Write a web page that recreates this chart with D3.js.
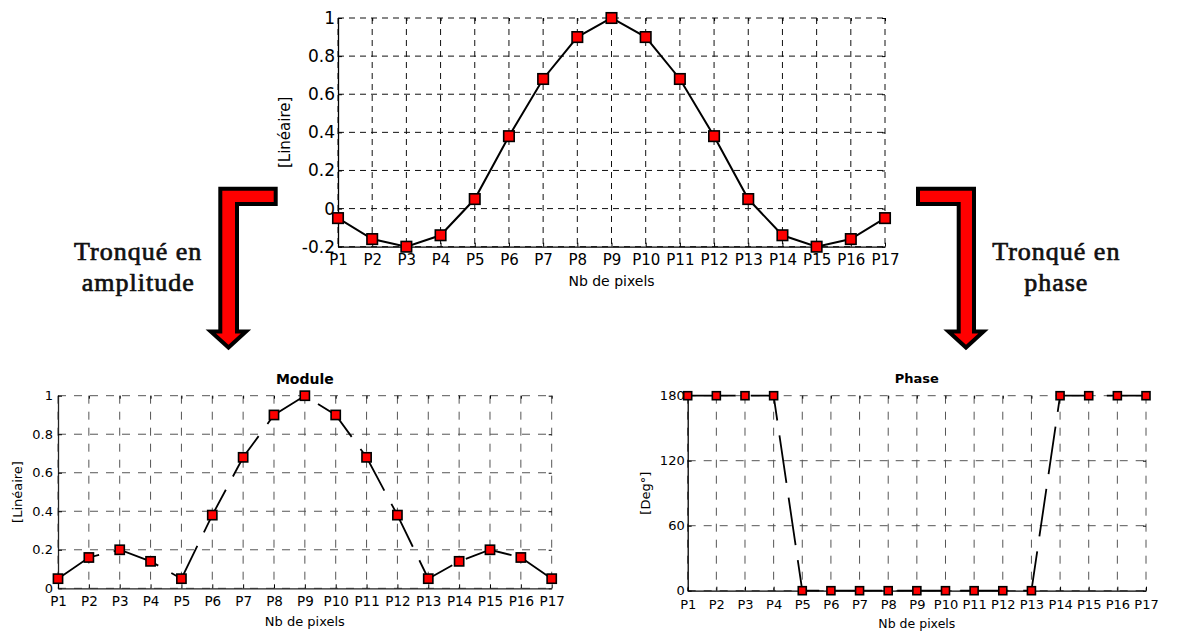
<!DOCTYPE html>
<html>
<head>
<meta charset="utf-8">
<script src="https://cdn.jsdelivr.net/npm/d3@7"></script>
<style>
  html, body { margin: 0; padding: 0; background: #fff; }
  svg { display: block; }
</style>
</head>
<body>
<svg id="chart" width="1200" height="633"></svg>
<script>
// ---------- data ----------
const categories = ["P1","P2","P3","P4","P5","P6","P7","P8","P9","P10","P11","P12","P13","P14","P15","P16","P17"];
const signalValues = [-0.05,-0.16,-0.2,-0.14,0.05,0.38,0.68,0.9,1,0.9,0.68,0.38,0.05,-0.14,-0.2,-0.16,-0.05];
const moduleValues = [0.05,0.16,0.2,0.14,0.05,0.38,0.68,0.9,1,0.9,0.68,0.38,0.05,0.14,0.2,0.16,0.05];
const phaseValues = [180,180,180,180,0,0,0,0,0,0,0,0,0,180,180,180,180];
const signalTicks = [-0.2,0,0.2,0.4,0.6,0.8,1];
const moduleTicks = [0,0.2,0.4,0.6,0.8,1];
const phaseTicks = [0,60,120,180];
const xLabel = "Nb de pixels";
const leftArrowText = ["Tronqué en","amplitude"];
const rightArrowText = ["Tronqué en","phase"];

const svg = d3.select("#chart");
const FONT = "'DejaVu Sans', sans-serif";

function fmtNum(d){ return String(d); }

function drawPanel(o){
  const g = svg.append("g");
  const x = d3.scalePoint().domain(categories).range([o.left, o.right]);
  const y = d3.scaleLinear().domain(o.yDomain).range([o.bottom, o.top]);

  // grid
  g.append("g").selectAll("line").data(categories).join("line")
    .attr("x1", d => x(d)).attr("x2", d => x(d))
    .attr("y1", o.top).attr("y2", o.bottom)
    .attr("stroke", o.gridColor).attr("stroke-width", 1)
    .attr("stroke-dasharray", o.gridDash);
  g.append("g").selectAll("line").data(o.yTicks).join("line")
    .attr("x1", o.left).attr("x2", o.right)
    .attr("y1", d => y(d)).attr("y2", d => y(d))
    .attr("stroke", o.gridColor).attr("stroke-width", 1)
    .attr("stroke-dasharray", o.gridDash);

  // top / right small ticks
  const topAx = g.append("g").attr("transform", `translate(0,${o.top})`)
    .call(d3.axisTop(x).tickSize(-3).tickSizeOuter(0).tickFormat(""));
  topAx.select(".domain").remove();
  const rightAx = g.append("g").attr("transform", `translate(${o.right},0)`)
    .call(d3.axisRight(y).tickValues(o.yTicks).tickSize(-3).tickSizeOuter(0).tickFormat(""));
  rightAx.select(".domain").remove();

  // left axis
  const la = g.append("g").attr("transform", `translate(${o.left},0)`)
    .call(d3.axisLeft(y).tickValues(o.yTicks).tickSize(-4).tickSizeOuter(0)
      .tickPadding(o.yPad).tickFormat(fmtNum));
  la.select(".domain").attr("stroke", o.axisColor).attr("stroke-width", 1.3);
  la.selectAll("text").attr("font-family", FONT).attr("font-size", o.yTickFs).attr("fill", "#000");

  // bottom axis
  const ba = g.append("g").attr("transform", `translate(0,${o.bottom})`)
    .call(d3.axisBottom(x).tickSize(-4).tickSizeOuter(0).tickPadding(o.xPad));
  ba.select(".domain").attr("stroke", o.axisColor).attr("stroke-width", 1.3);
  ba.selectAll("text").attr("font-family", FONT).attr("font-size", o.xTickFs).attr("fill", "#000");

  // x label
  g.append("text").attr("x", (o.left + o.right) / 2).attr("y", o.xLabelY)
    .attr("text-anchor", "middle").attr("font-family", FONT).attr("font-size", o.xLabelFs)
    .text(xLabel);
  // y label
  g.append("text")
    .attr("transform", `translate(${o.yLabelX},${(o.top + o.bottom) / 2}) rotate(-90)`)
    .attr("text-anchor", "middle").attr("dy", "0.35em")
    .attr("font-family", FONT).attr("font-size", o.yLabelFs)
    .text(o.yLabel);
  // title
  if (o.title) {
    g.append("text").attr("x", (o.left + o.right) / 2).attr("y", o.titleY)
      .attr("text-anchor", "middle").attr("font-family", FONT).attr("font-weight", "bold")
      .attr("font-size", o.titleFs).text(o.title);
  }

  // data line
  const line = d3.line().x((d, i) => x(categories[i])).y(d => y(d));
  g.append("path").datum(o.values).attr("d", line)
    .attr("fill", "none").attr("stroke", "#000").attr("stroke-width", o.lineWidth)
    .attr("stroke-dasharray", o.lineDash || null);

  // markers
  const s = o.markerSize;
  g.append("g").selectAll("rect").data(o.values).join("rect")
    .attr("x", (d, i) => x(categories[i]) - s / 2)
    .attr("y", d => y(d) - s / 2)
    .attr("width", s).attr("height", s)
    .attr("fill", "#ff0000").attr("stroke", "#000").attr("stroke-width", 1.6);
}

// top chart
drawPanel({
  left: 338, right: 885, top: 18, bottom: 246.7,
  yDomain: [-0.2, 1], yTicks: signalTicks, values: signalValues,
  gridColor: "#111", gridDash: "6,5", axisColor: "#000",
  yPad: 3, xPad: 8, yTickFs: 17, xTickFs: 15,
  xLabelY: 286, xLabelFs: 14, yLabelX: 285, yLabelFs: 15, yLabel: "[Linéaire]",
  lineWidth: 2, markerSize: 10.5
});

// module chart
drawPanel({
  left: 58, right: 551.7, top: 395.7, bottom: 588.3,
  yDomain: [0, 1], yTicks: moduleTicks, values: moduleValues,
  gridColor: "#555", gridDash: "8,8", axisColor: "#222",
  yPad: 5, xPad: 8.5, yTickFs: 13, xTickFs: 13.5,
  xLabelY: 625.5, xLabelFs: 13, yLabelX: 17, yLabelFs: 13, yLabel: "[Linéaire]",
  title: "Module", titleY: 384, titleFs: 14,
  lineWidth: 1.8, lineDash: "48,15", markerSize: 9.2
});

// phase chart
drawPanel({
  left: 687.7, right: 1146, top: 395.7, bottom: 590.7,
  yDomain: [0, 180], yTicks: phaseTicks, values: phaseValues,
  gridColor: "#555", gridDash: "8,8", axisColor: "#000",
  yPad: 3, xPad: 9.5, yTickFs: 13, xTickFs: 13,
  xLabelY: 628, xLabelFs: 12.5, yLabelX: 645, yLabelFs: 13, yLabel: "[Deg°]",
  title: "Phase", titleY: 382.5, titleFs: 13,
  lineWidth: 1.8, lineDash: "48,15", markerSize: 8
});

// ---------- arrows (annotations) ----------
const arrowStyle = g => g.attr("fill", "#ff0000").attr("stroke", "#000")
  .attr("stroke-width", 4).attr("stroke-linejoin", "miter");
svg.append("polygon").call(arrowStyle).attr("points", [
  [220.3,188.7],[275.7,188.7],[275.7,204],[237,204],[237,331.5],
  [246,331.5],[228.5,347.5],[210.8,331.5],[220.3,331.5]
].map(p => p.join(",")).join(" "));
svg.append("polygon").call(arrowStyle).attr("points", [
  [918,188.7],[974,188.7],[974,331.5],[983.5,331.5],[966,347.5],
  [948.5,331.5],[958.7,331.5],[958.7,204],[918,204]
].map(p => p.join(",")).join(" "));

const SERIF = "'Liberation Serif', 'DejaVu Serif', serif";
function arrowLabel(lines, cx){
  [[lines[0], 260], [lines[1], 290.5]].forEach(([t, yy]) => {
    svg.append("text").attr("x", cx + 0.5).attr("y", yy).attr("text-anchor", "middle")
      .attr("font-family", SERIF).attr("font-size", 26).attr("letter-spacing", 1)
      .attr("fill", "#111").attr("stroke", "#111").attr("stroke-width", 0.7)
      .text(t);
  });
}
arrowLabel(leftArrowText, 137.7);
arrowLabel(rightArrowText, 1055.8);
</script>
</body>
</html>
